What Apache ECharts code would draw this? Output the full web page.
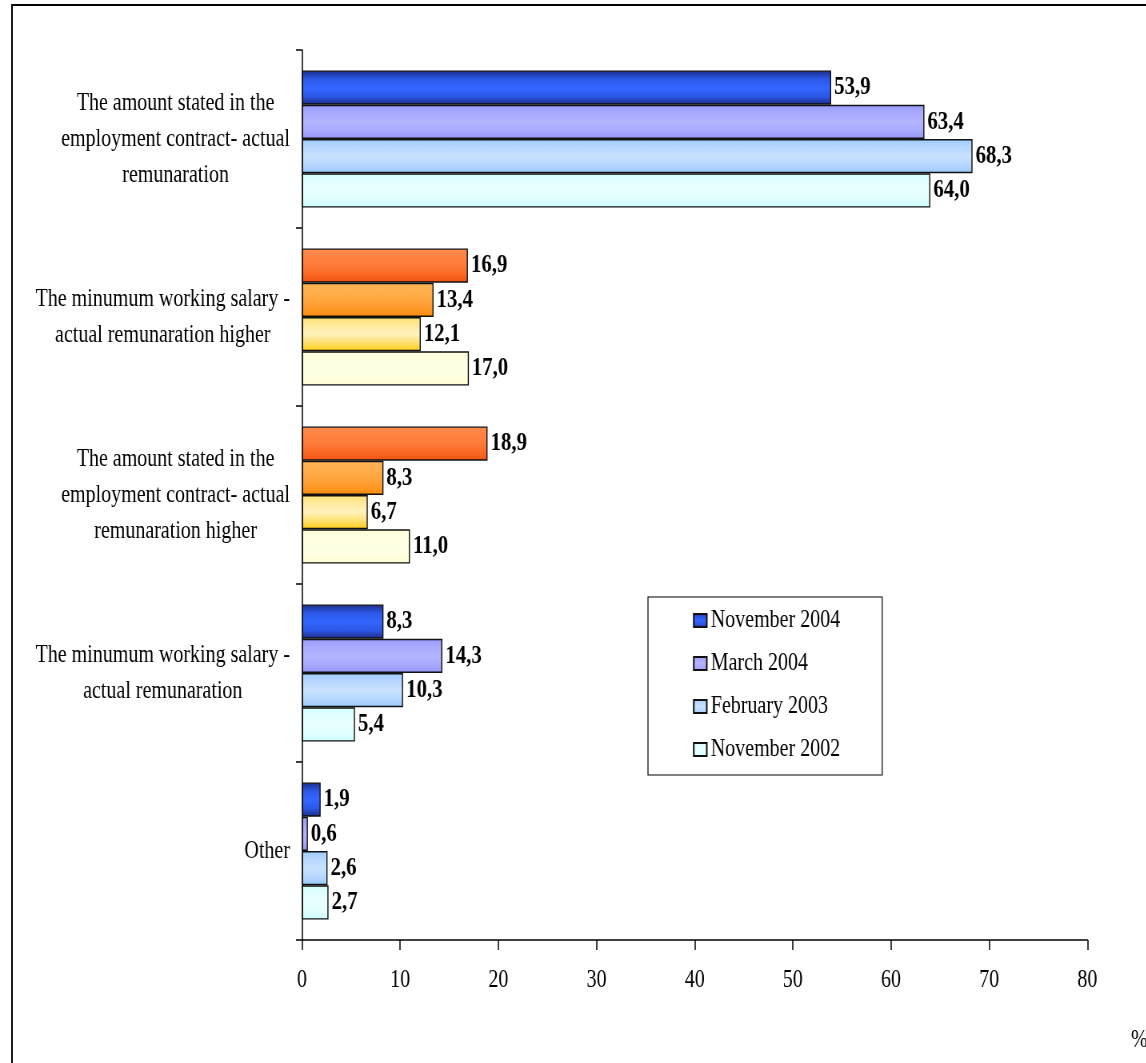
<!DOCTYPE html>
<html>
<head>
<meta charset="utf-8">
<script src="https://cdn.jsdelivr.net/npm/echarts@6/dist/echarts.min.js"></script>
<style>
  html, body { margin: 0; padding: 0; background: #fff; overflow: hidden; }
  /* The chart is laid out wider and squeezed horizontally so the serif text
     gets the tall, narrow look of the original typesetting. */
  #chart { width: 1432.5px; height: 1063px; transform: scaleX(0.8); transform-origin: 0 0; }
</style>
</head>
<body>
<div id="chart"></div>
<script>
// Categories (top to bottom), each label split into its display lines
const categories = [
  ['The amount stated in the', 'employment contract- actual', 'remunaration'],
  ['The minumum working salary -', 'actual remunaration higher'],
  ['The amount stated in the', 'employment contract- actual', 'remunaration higher'],
  ['The minumum working salary -', 'actual remunaration'],
  ['Other']
];

// Survey periods
const seriesNames = ['November 2004', 'March 2004', 'February 2003', 'November 2002'];

// Shares, %
const nov2004 = [53.9, 16.9, 18.9, 8.3, 1.9];
const mar2004 = [63.4, 13.4, 8.3, 14.3, 0.6];
const feb2003 = [68.3, 12.1, 6.7, 10.3, 2.6];
const nov2002 = [64.0, 17.0, 11.0, 5.4, 2.7];

const xTicks = [0, 10, 20, 30, 40, 50, 60, 70, 80];

// Categories drawn in the warm palette
const warmCategories = [1, 2];

const FONT = "'Liberation Serif', 'Times New Roman', serif";
const SX = 0.8;               // horizontal squeeze applied to the container
const px = v => v / SX;       // page x-distance -> layout x-distance

function grad(stops) {
  return new echarts.graphic.LinearGradient(0, 0, 0, 1,
    stops.map((c, i) => ({ offset: i / (stops.length - 1), color: c })));
}

// Cool palette (blue / lavender / light blue / pale cyan)
const coolFills = [
  ['#1b2c86', '#2d58e8', '#3366ff', '#2d58e8', '#1b2c86'],
  ['#9a9aff', '#aaaaff', '#b4b4ff', '#aaaaff', '#9494f8'],
  ['#99ccff', '#b8d8ff', '#c8e2ff', '#b8d8ff', '#99c8fa'],
  ['#d4ffff', '#e2ffff', '#e8ffff', '#e2ffff', '#ccfcfc']
];
// Warm palette (orange-red / orange / gold / cream)
const warmFills = [
  ['#ff8c4c', '#ff8242', '#ff7a38', '#fb6a26', '#f05010'],
  ['#ffb658', '#ffae4c', '#ffa640', '#ff9a28', '#ff8a10'],
  ['#ffe070', '#ffeaa0', '#fff2bc', '#ffe070', '#ffcc10'],
  ['#ffffd8', '#ffffe2', '#ffffe6', '#ffffe0', '#fffcd0']
];

const values = [nov2004, mar2004, feb2003, nov2002];

const series = values.map((vals, si) => ({
  name: seriesNames[si],
  type: 'bar',
  barGap: '0%',
  barCategoryGap: '23%',
  itemStyle: {
    color: grad(coolFills[si]),
    borderColor: '#111',
    borderWidth: 1.4
  },
  label: {
    show: true,
    position: 'right',
    distance: px(3),
    color: '#000',
    fontFamily: FONT,
    fontWeight: 'bold',
    fontSize: 26,
    formatter: p => p.value.toFixed(1).replace('.', ',')
  },
  data: vals.map((v, ci) => warmCategories.includes(ci)
    ? { value: v, itemStyle: { color: grad(warmFills[si]) } }
    : v)
}));

const chart = echarts.init(document.getElementById('chart'));
chart.setOption({
  animation: false,
  backgroundColor: '#fff',
  textStyle: { fontFamily: FONT },
  grid: { left: px(302), right: px(59), top: 50, bottom: 123, containLabel: false },
  legend: {
    orient: 'vertical',
    left: px(648),
    top: 597,
    padding: [11, px(42), 13, px(45)],
    itemGap: 18,
    itemWidth: px(13),
    itemHeight: 13,
    icon: 'rect',
    borderColor: '#000',
    borderWidth: 1.2,
    backgroundColor: '#fff',
    textStyle: { fontFamily: FONT, fontSize: 25, color: '#000' },
    data: seriesNames
  },
  xAxis: {
    type: 'value',
    min: xTicks[0],
    max: xTicks[xTicks.length - 1],
    interval: xTicks[1] - xTicks[0],
    axisLine: { show: true, lineStyle: { color: '#000', width: 1.5 } },
    axisTick: { show: true, length: 10, lineStyle: { color: '#000', width: 1.5 } },
    axisLabel: { color: '#000', fontFamily: FONT, fontSize: 25, margin: 28 },
    splitLine: { show: false }
  },
  yAxis: {
    type: 'category',
    inverse: true,
    data: categories.map(l => l.join('\n')),
    axisLine: { show: true, lineStyle: { color: '#000', width: 1.5 } },
    axisTick: { show: true, length: px(6), lineStyle: { color: '#000', width: 1.5 } },
    axisLabel: {
      margin: px(12),
      formatter: v => v.split('\n').map(s => '{c|' + s + '}').join('\n'),
      rich: {
        c: { align: 'center', fontFamily: FONT, fontSize: 25, lineHeight: 36, color: '#000' }
      }
    }
  },
  graphic: [
    {
      type: 'rect',
      shape: { x: px(12), y: 5, width: 1600, height: 1200 },
      style: { fill: 'none', stroke: '#000', lineWidth: 2 },
      silent: true
    },
    {
      type: 'text',
      left: px(1131),
      top: 1028,
      style: { text: '%', fontFamily: FONT, fontSize: 25, fill: '#000' }
    }
  ],
  series: series
});
</script>
</body>
</html>
